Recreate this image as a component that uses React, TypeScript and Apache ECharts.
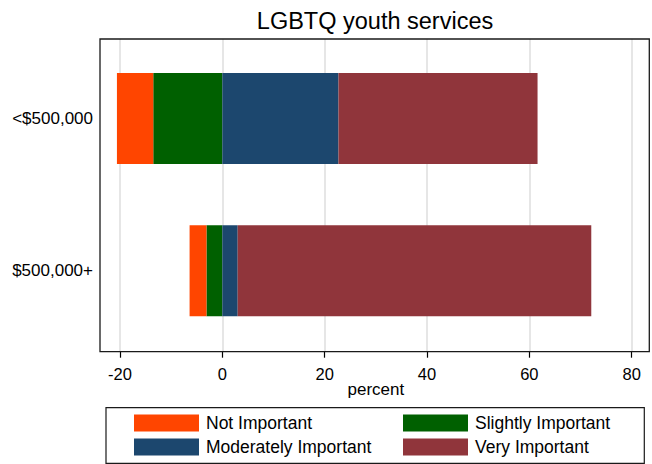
import React, { useEffect, useRef } from "react";
import * as echarts from "echarts";

const categories = ["<$500,000", "$500,000+"];
const notImportant = [7.1, 3.3];
const slightlyImportant = [13.5, 3.1];
const moderatelyImportant = [22.7, 3.0];
const veryImportant = [38.9, 69.1];
const xTicks = { min: -20, max: 80, interval: 20 };

const FONT = "'Liberation Sans', Arial, sans-serif";
const COLORS = {
  not: "#ff4500",
  slightly: "#006000",
  moderately: "#1c476e",
  very: "#90353b",
};

export default function App() {
  const ref = useRef<HTMLDivElement>(null);
  useEffect(() => {
    if (!ref.current) return;
    const chart = echarts.init(ref.current, undefined, { renderer: "svg" });
    const neg = (a: number[]) => a.map((v) => -v);
    const legendItem = (name: string, left: number, top: number) => ({
      data: [name],
      left,
      top,
      padding: 0,
      itemWidth: 65,
      itemHeight: 17,
      icon: "rect",
      selectedMode: false,
      textStyle: { fontSize: 17.5, fontFamily: FONT, color: "#000", lineHeight: 17, padding: [0, 0, 0, 2] },
    });
    const barBase = {
      type: "bar",
      stack: "s",
      xAxisIndex: 1,
      yAxisIndex: 1,
      barWidth: 91,
      clip: false,
    };
    chart.setOption({
      animation: false,
      backgroundColor: "#fff",
      title: {
        text: "LGBTQ youth services",
        left: 375,
        top: 9,
        padding: 0,
        textAlign: "center",
        textStyle: { fontSize: 23.5, fontWeight: "normal", fontFamily: FONT, color: "#000" },
      },
      legend: [
        legendItem("Not Important", 134, 414),
        legendItem("Moderately Important", 134, 438),
        legendItem("Slightly Important", 403, 414),
        legendItem("Very Important", 403, 438),
      ],
      grid: [
        { left: 120, width: 511.7, top: 39, height: 312.7 },
        { left: 120, width: 511.7, top: 42.4, height: 304.4 },
      ],
      xAxis: [
        {
          gridIndex: 0,
          type: "value",
          min: xTicks.min,
          max: xTicks.max,
          interval: xTicks.interval,
          name: "percent",
          nameLocation: "middle",
          nameGap: 29,
          nameMoveOverlap: false,
          nameTextStyle: { fontSize: 17, fontFamily: FONT, color: "#000" },
          axisLine: { show: false },
          axisTick: { show: true, length: 6, lineStyle: { color: "#000", width: 1.2 } },
          axisLabel: { fontSize: 16.5, fontFamily: FONT, color: "#000", margin: 14 },
          splitLine: { show: true, lineStyle: { color: "#dedede", width: 1.5 } },
        },
        {
          gridIndex: 1,
          type: "value",
          min: xTicks.min,
          max: xTicks.max,
          interval: xTicks.interval,
          show: false,
        },
      ],
      yAxis: [
        { gridIndex: 0, type: "value", show: false },
        {
          gridIndex: 1,
          type: "category",
          data: categories,
          inverse: true,
          axisLine: { show: false },
          axisTick: { show: false },
          axisLabel: { fontSize: 17, fontFamily: FONT, color: "#000", margin: 27 },
          splitLine: { show: false },
        },
      ],
      series: [
        { ...barBase, name: "Slightly Important", data: neg(slightlyImportant), itemStyle: { color: COLORS.slightly } },
        { ...barBase, name: "Not Important", data: neg(notImportant), itemStyle: { color: COLORS.not } },
        { ...barBase, name: "Moderately Important", data: moderatelyImportant, itemStyle: { color: COLORS.moderately } },
        { ...barBase, name: "Very Important", data: veryImportant, itemStyle: { color: COLORS.very } },
      ],
      graphic: [
        {
          type: "rect",
          shape: { x: 100, y: 39, width: 549.3, height: 312.7 },
          style: { fill: "none", stroke: "#1a1a1a", lineWidth: 1.3 },
          z: 10,
        },
        {
          type: "rect",
          shape: { x: 106, y: 407.7, width: 538.3, height: 55.6 },
          style: { fill: "none", stroke: "#1a1a1a", lineWidth: 1.2 },
          z: 10,
        },
      ],
    });
    return () => chart.dispose();
  }, []);
  return (
    <div
      ref={ref}
      style={{ position: "absolute", left: 0, top: 0, width: 652, height: 464 }}
    />
  );
}
